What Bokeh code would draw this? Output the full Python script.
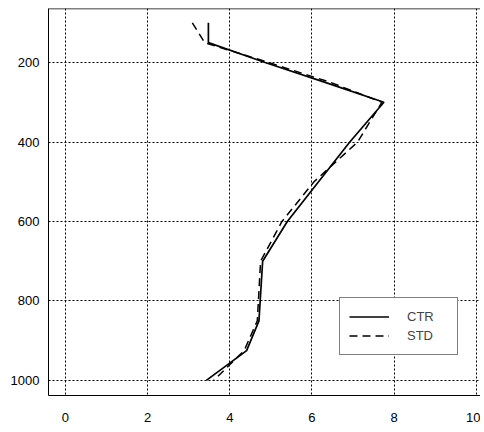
from bokeh.plotting import figure
from bokeh.models import Range1d, Legend, LegendItem, Span, FixedTicker
from bokeh.embed import file_html
from bokeh.resources import INLINE

pressure = [100, 150, 200, 250, 300, 400, 500, 600, 700, 850, 925, 1000]
ctr = [3.48, 3.48, 4.86, 6.32, 7.75, 6.92, 6.16, 5.40, 4.80, 4.71, 4.41, 3.43]
std = [3.09, 3.39, 4.95, 6.45, 7.70, 7.11, 6.05, 5.27, 4.75, 4.67, 4.35, 3.61]
x_ticks = [0, 2, 4, 6, 8, 10]
y_ticks = [200, 400, 600, 800, 1000]

p = figure(width=480, height=428, output_backend="svg", toolbar_location=None,
           x_range=Range1d(-0.41, 10.10), y_range=Range1d(1038, 64),
           min_border_left=48, min_border_right=0, min_border_top=8, min_border_bottom=33)

p.outline_line_color = None
p.background_fill_color = "white"
p.border_fill_color = "white"

for ax in (p.xaxis[0], p.yaxis[0]):
    ax.major_tick_line_color = None
    ax.minor_tick_line_color = None
    ax.major_tick_out = 0
    ax.major_tick_in = 0
    ax.axis_line_color = "black"
    ax.axis_line_width = 1
    ax.major_label_text_font = "Liberation Sans"
    ax.major_label_text_font_size = "13px"
    ax.major_label_text_color = "black"

p.xaxis[0].ticker = FixedTicker(ticks=x_ticks)
p.yaxis[0].ticker = FixedTicker(ticks=y_ticks)
p.xaxis[0].major_label_standoff = 17
p.yaxis[0].major_label_standoff = 9

for g in (p.xgrid[0], p.ygrid[0]):
    g.grid_line_color = "black"
    g.grid_line_dash = "2 2"
    g.grid_line_width = 1
p.xgrid[0].ticker = FixedTicker(ticks=x_ticks)
p.ygrid[0].ticker = FixedTicker(ticks=y_ticks)

p.add_layout(Span(location=64, dimension="width", line_color="black", line_width=1.5))

r1 = p.line(ctr, pressure, line_color="black", line_width=1.7)
r2 = p.line(std, pressure, line_color="black", line_width=1.5, line_dash="8 5")

legend = Legend(items=[LegendItem(label="CTR", renderers=[r1]),
                       LegendItem(label="STD", renderers=[r2])],
                location=(291, 40), margin=0, padding=9, spacing=0,
                glyph_width=40, glyph_height=19, label_height=19,
                label_standoff=18, label_width=41,
                label_text_font="Liberation Sans", label_text_font_size="13px",
                border_line_color="black", border_line_width=1,
                background_fill_alpha=1.0)
p.add_layout(legend, "center")

open("out.html", "w").write(file_html(p, INLINE))
